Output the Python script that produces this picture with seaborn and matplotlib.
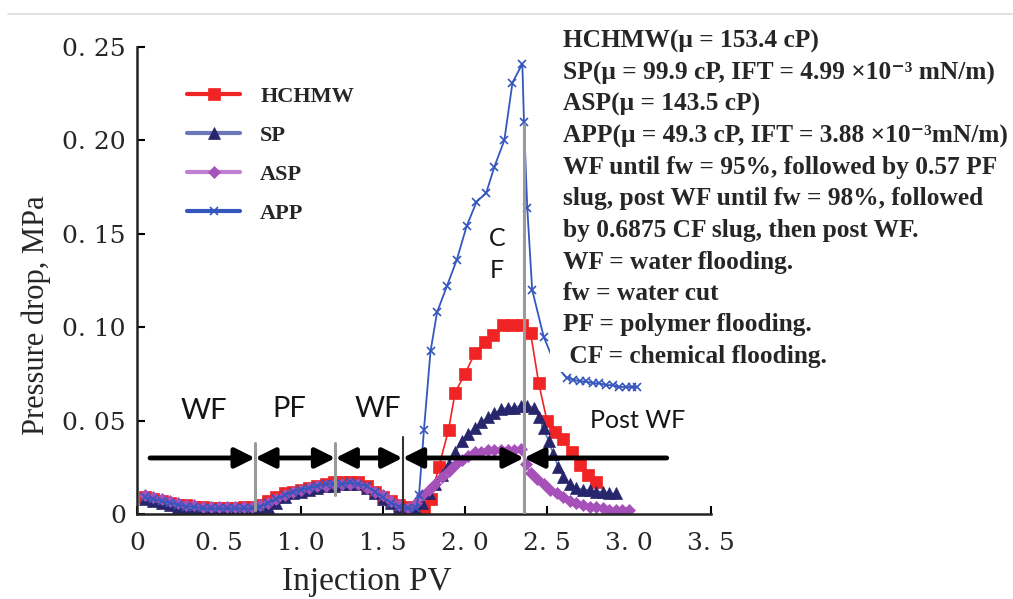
import matplotlib
matplotlib.use("Agg")
import matplotlib.pyplot as plt
import seaborn as sns
from matplotlib.patches import Rectangle
from matplotlib.lines import Line2D

# ---- values ----
x_early = [0.05, 0.10, 0.15, 0.20, 0.25, 0.30, 0.35, 0.40, 0.45, 0.50, 0.55,
           0.60, 0.65, 0.70, 0.75, 0.80, 0.85, 0.90, 0.95, 1.00, 1.05, 1.10,
           1.15, 1.20, 1.25, 1.30, 1.35, 1.40, 1.45, 1.50, 1.55, 1.60, 1.65]

hchmw_early = [0.009, 0.008, 0.007, 0.006, 0.005, 0.005, 0.004, 0.004, 0.003, 0.003, 0.003,
               0.003, 0.004, 0.004, 0.005, 0.007, 0.009, 0.011, 0.012, 0.013, 0.014, 0.015,
               0.016, 0.017, 0.017, 0.017, 0.017, 0.015, 0.012, 0.009, 0.007, 0.005, 0.004]
sp_early = [0.008, 0.007, 0.006, 0.005, 0.004, 0.003, 0.003, 0.002, 0.002, 0.002, 0.001,
            0.001, 0.001, 0.001, 0.002, 0.004, 0.006, 0.009, 0.011, 0.012, 0.013, 0.014,
            0.015, 0.015, 0.016, 0.016, 0.016, 0.014, 0.011, 0.008, 0.006, 0.004, 0.002]
asp_early = [0.010, 0.009, 0.008, 0.007, 0.006, 0.005, 0.005, 0.004, 0.004, 0.004, 0.004,
             0.004, 0.004, 0.004, 0.005, 0.006, 0.008, 0.010, 0.012, 0.013, 0.014, 0.015,
             0.015, 0.016, 0.016, 0.016, 0.016, 0.014, 0.012, 0.010, 0.007, 0.005, 0.003]
app_early = [0.009, 0.008, 0.007, 0.006, 0.005, 0.004, 0.004, 0.003, 0.003, 0.003, 0.003,
             0.003, 0.003, 0.003, 0.004, 0.006, 0.008, 0.010, 0.012, 0.013, 0.014, 0.015,
             0.016, 0.016, 0.016, 0.017, 0.016, 0.015, 0.012, 0.009, 0.006, 0.004, 0.003]

hchmw_x_cf = [1.70, 1.75, 1.79, 1.84, 1.90, 1.94, 2.00, 2.06, 2.12, 2.17, 2.23,
              2.29, 2.35, 2.40, 2.45, 2.50, 2.55, 2.60, 2.65, 2.70, 2.75, 2.80]
hchmw_y_cf = [0.003, 0.004, 0.008, 0.025, 0.045, 0.065, 0.075, 0.086, 0.092, 0.096, 0.101,
              0.101, 0.101, 0.097, 0.070, 0.050, 0.044, 0.040, 0.033, 0.026, 0.021, 0.017]

sp_x_cf = [1.70, 1.74, 1.78, 1.82, 1.86, 1.90, 1.94, 1.98, 2.02, 2.06, 2.10, 2.14,
           2.18, 2.22, 2.26, 2.30, 2.34, 2.38, 2.42, 2.45, 2.48, 2.51, 2.54, 2.57,
           2.60, 2.64, 2.68, 2.72, 2.76, 2.80, 2.84, 2.88, 2.92]
sp_y_cf = [0.002, 0.006, 0.011, 0.016, 0.021, 0.027, 0.033, 0.039, 0.043, 0.046, 0.049, 0.052,
           0.054, 0.056, 0.057, 0.057, 0.058, 0.058, 0.057, 0.052, 0.046, 0.039, 0.032, 0.025,
           0.020, 0.016, 0.014, 0.013, 0.013, 0.012, 0.012, 0.011, 0.011]

asp_x_cf = [1.70, 1.74, 1.78, 1.82, 1.86, 1.90, 1.94, 1.98, 2.02, 2.06, 2.10, 2.14,
            2.18, 2.22, 2.26, 2.30, 2.34, 2.37, 2.40, 2.44, 2.48, 2.52, 2.56, 2.60,
            2.64, 2.68, 2.72, 2.76, 2.80, 2.84, 2.88, 2.92, 2.96, 3.00]
asp_y_cf = [0.006, 0.010, 0.013, 0.016, 0.020, 0.023, 0.026, 0.029, 0.031, 0.033, 0.033, 0.034,
            0.034, 0.034, 0.034, 0.034, 0.035, 0.027, 0.022, 0.019, 0.016, 0.013, 0.011, 0.009,
            0.007, 0.006, 0.005, 0.004, 0.004, 0.003, 0.002, 0.002, 0.002, 0.002]

app_x_cf = [1.70, 1.72, 1.75, 1.79, 1.83, 1.89, 1.95, 2.01, 2.07, 2.13, 2.18, 2.24,
            2.29, 2.35, 2.36, 2.38, 2.41, 2.48, 2.55, 2.62, 2.66, 2.70, 2.74, 2.78,
            2.82, 2.86, 2.90, 2.94, 2.98, 3.02, 3.05]
app_y_cf = [0.003, 0.010, 0.045, 0.087, 0.108, 0.122, 0.136, 0.154, 0.167, 0.172, 0.186, 0.200,
            0.231, 0.241, 0.210, 0.164, 0.120, 0.095, 0.080, 0.073, 0.072, 0.071, 0.071, 0.070,
            0.070, 0.069, 0.069, 0.068, 0.068, 0.068, 0.068]

# injection stages: boundaries (PV) and labels
stage_bounds = [0.72, 1.21, 1.62, 2.36]
stage_line_top = [0.038, 0.038, 0.041, 0.209]
stage_line_bottom = [0.002, 0.010, 0.0, 0.0]
arrow_start, arrow_end, arrow_level = 0.08, 3.23, 0.03
stage_labels = ["WF", "PF", "WF", "C\nF", "Post WF"]
stage_label_x = [0.41, 0.93, 1.47, 2.195, 3.055]
stage_label_y = [0.055, 0.056, 0.056, 0.139, 0.050]

xticks = [0, 0.5, 1.0, 1.5, 2.0, 2.5, 3.0, 3.5]
xtick_labels = ["0", "0. 5", "1. 0", "1. 5", "2. 0", "2. 5", "3. 0", "3. 5"]
yticks = [0, 0.05, 0.10, 0.15, 0.20, 0.25]
ytick_labels = ["0", "0. 05", "0. 10", "0. 15", "0. 20", "0. 25"]

notes = [
    "HCHMW(\u03bc = 153.4 cP)",
    "SP(\u03bc = 99.9 cP, IFT = 4.99 \u00d710\u207b\u00b3 mN/m)",
    "ASP(\u03bc = 143.5 cP)",
    "APP(\u03bc = 49.3 cP, IFT = 3.88 \u00d710\u207b\u00b3mN/m)",
    "WF until fw = 95%, followed by 0.57 PF",
    "slug, post WF until fw = 98%, followed",
    "by 0.6875 CF slug, then post WF.",
    "WF = water flooding.",
    "fw = water cut",
    "PF = polymer flooding.",
    " CF = chemical flooding.",
]

sns.set_style("ticks")
plt.rcParams['font.family'] = ['DejaVu Serif']

fig = plt.figure(figsize=(10.13, 5.99), dpi=100)
ax = fig.add_axes([0.1352, 0.1419, 0.5666, 0.7796])

series = [
    ("HCHMW", x_early + hchmw_x_cf, hchmw_early + hchmw_y_cf,
     dict(color="#f02424", marker="s", markersize=8.5, markerfacecolor="#f02424",
          markeredgecolor="#f02424", markeredgewidth=0.5, linewidth=1.2)),
    ("SP", x_early + sp_x_cf, sp_early + sp_y_cf,
     dict(color="#6b78b8", marker="^", markersize=9, markerfacecolor="#27266c",
          markeredgecolor="#27266c", markeredgewidth=0.5, linewidth=1.2)),
    ("ASP", x_early + asp_x_cf, asp_early + asp_y_cf,
     dict(color="#c07fd0", marker="D", markersize=6, markerfacecolor="#a650ba",
          markeredgecolor="#a650ba", markeredgewidth=0.5, linewidth=1.2)),
    ("APP", x_early + app_x_cf, app_early + app_y_cf,
     dict(color="#3556bd", marker="x", markersize=6, markeredgecolor="#3556bd",
          markeredgewidth=1.2, linewidth=1.3)),
]
for name, xs, ys, style in series:
    sns.lineplot(x=xs, y=ys, ax=ax, label=name, estimator=None, sort=False, **style)

# stage boundaries
for xb, top, bot in zip(stage_bounds, stage_line_top, stage_line_bottom):
    dark = xb == 1.62
    ax.plot([xb, xb], [bot, top], color="#333333" if dark else "#9a9a9a",
            lw=1.5 if dark else 2.2, zorder=4)

# arrows between the stages
edges = [arrow_start] + stage_bounds + [arrow_end]
for i in range(len(edges) - 1):
    a, b = edges[i], edges[i + 1]
    if i == 0:
        style, xy, xyt = "-|>", b, a
    elif i == len(edges) - 2:
        style, xy, xyt = "-|>", a, b
    else:
        style, xy, xyt = "<|-|>", b, a
    ax.annotate("", xy=(xy, arrow_level), xytext=(xyt, arrow_level),
                arrowprops=dict(arrowstyle=style + ",head_length=0.6,head_width=0.3",
                                color="black", lw=3.5, shrinkA=0, shrinkB=0,
                                mutation_scale=20), zorder=6)

for lab, lx, ly in zip(stage_labels, stage_label_x, stage_label_y):
    fs = 21 if lab in ("WF", "PF") else 18
    ax.text(lx, ly, lab, ha="center", va="center", fontsize=fs, family="Lato",
            weight="normal", color="#151515", linespacing=1.45, zorder=7,
            bbox=dict(facecolor="white", edgecolor="none", pad=3))

ax.set_xlim(0, 3.5)
ax.set_ylim(0, 0.25)
ax.set_xticks(xticks)
ax.set_xticklabels(xtick_labels)
ax.set_yticks(yticks)
ax.set_yticklabels(ytick_labels)
ax.tick_params(direction="in", length=6, width=1.5, labelsize=18, color="black")
ax.tick_params(axis="x", pad=13)
ax.tick_params(axis="y", pad=8)
sns.despine(ax=ax)
for s in ("left", "bottom"):
    ax.spines[s].set_linewidth(1.8)
    ax.spines[s].set_color("#222222")

ax.set_xlabel("Injection PV", family="Liberation Serif", fontsize=24)
ax.set_ylabel("Pressure drop, MPa", family="Liberation Serif", fontsize=22)
ax.xaxis.set_label_coords(0.40, -0.112)
ax.yaxis.set_label_coords(-0.15, 0.426)

h, l = ax.get_legend_handles_labels()
leg = ax.legend(h, l, loc="upper left", bbox_to_anchor=(0.087, 0.915), frameon=False,
                prop=dict(family="Liberation Serif", weight="bold", size=16),
                handlelength=2.4, handletextpad=0.9, labelspacing=0.82,
                borderpad=0, borderaxespad=0)
for hl in leg.get_lines():
    hl.set_linewidth(3)

# notes block on the right
fig.add_artist(Rectangle((550 / 1013, 1 - 372 / 599), 1 - 550 / 1013, 350 / 599,
                         transform=fig.transFigure, facecolor="white",
                         edgecolor="none", zorder=2))
for i, line in enumerate(notes):
    fig.text(563 / 1013, 1 - (48 + i * 31.5) / 599, line, ha="left", va="baseline",
             fontsize=18.3, weight="bold", family=["Liberation Serif", "DejaVu Serif"],
             zorder=3)

fig.add_artist(Line2D([8 / 1013, 1], [1 - 14 / 599] * 2, transform=fig.transFigure,
                      color="#dcdcdc", lw=1.2))

fig.savefig("out.png", dpi=100, facecolor="white")
